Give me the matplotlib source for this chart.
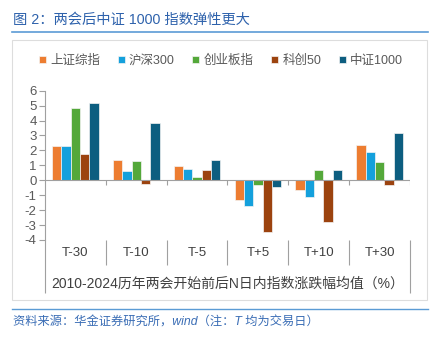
import numpy as np
import matplotlib
matplotlib.use("Agg")
import matplotlib.pyplot as plt
from matplotlib.lines import Line2D
from matplotlib.patches import Rectangle

plt.rcParams['font.family'] = ['Liberation Sans', 'Noto Sans CJK SC']

# data: average index change in N trading days around the NPC/CPPCC sessions (%)
categories = ['T-30', 'T-10', 'T-5', 'T+5', 'T+10', 'T+30']
series_names = ['上证综指', '沪深300', '创业板指', '科创50', '中证1000']
sse = [2.28, 1.39, 0.94, -1.34, -0.67, 2.35]
csi300 = [2.28, 0.65, 0.78, -1.74, -1.14, 1.88]
chinext = [4.85, 1.32, 0.25, -0.34, 0.72, 1.21]
star50 = [1.77, -0.27, 0.67, -3.44, -2.77, -0.30]
csi1000 = [5.15, 3.87, 1.39, -0.45, 0.72, 3.17]
series = [sse, csi300, chinext, star50, csi1000]
colors = ['#ED7D31', '#14A0DC', '#54A83A', '#9C430F', '#0D5E80']

yticks = [6, 5, 4, 3, 2, 1, 0, -1, -2, -3, -4]
title = '图 2：两会后中证 1000 指数弹性更大'
xlabel = '2010-2024历年两会开始前后N日内指数涨跌幅均值（%）'
source = '资料来源：华金证券研究所，wind（注：T 均为交易日）'

W, H = 442, 343
fig = plt.figure(figsize=(W / 100, H / 100), dpi=100)

# axes placed in pixel terms
ax = fig.add_axes([45 / W, 1 - 240 / H, 365 / W, 149.3 / H])

x = np.arange(len(categories))
w = 0.153
for i, (vals, name, c) in enumerate(zip(series, series_names, colors)):
    ax.bar(x + (i - 2) * w, vals, width=w, color=c, label=name,
           edgecolor='#f4f4f4', linewidth=0.5, zorder=3)

grey = '#A0A0A0'
ax.set_xlim(-0.5, len(categories) - 0.5)
ax.set_ylim(-4, 6)
ax.set_yticks(yticks)
ax.set_yticklabels([str(t) for t in yticks])
ax.tick_params(axis='y', length=4, width=0.8, color=grey, labelsize=9.5,
               labelcolor='#595959', pad=2)
ax.set_xticks([])
for s in ['top', 'right', 'bottom']:
    ax.spines[s].set_visible(False)
ax.spines['left'].set_color(grey)
ax.spines['left'].set_linewidth(0.8)

# zero line and small ticks at category boundaries
ax.axhline(0, color=grey, lw=0.8, zorder=4)
bounds = np.arange(len(categories) + 1) - 0.5
ax.vlines(bounds[1:], -0.3, 0, color=grey, lw=0.8, zorder=4)

# category label area under the plot
xt = ax.get_xaxis_transform()
ax.vlines(bounds[1:-1], -0.167, 0, color=grey, lw=0.8, transform=xt, clip_on=False)
ax.vlines([bounds[0], bounds[-1]], -0.355, 0, color=grey, lw=0.8, transform=xt, clip_on=False)
for xi, cat in zip(x, categories):
    ax.text(xi, -0.085, cat, transform=xt, ha='center', va='center',
            fontsize=9.5, color='#404040')
ax.text((bounds[0] + bounds[-1]) / 2, -0.29, xlabel, transform=xt, ha='center',
        va='center', fontsize=10, color='#404040')

ax.legend(loc='center', bbox_to_anchor=(221 / W, 1 - 61 / H),
          bbox_transform=fig.transFigure, ncol=5, frameon=False, fontsize=9,
          handlelength=0.55, handleheight=0.55, handletextpad=0.35,
          columnspacing=1.4, labelcolor='#595959', borderaxespad=0)

# frame, title and source
fig.patches.append(Rectangle((12 / W, 1 - 300 / H), 415 / W, 260 / H,
                             transform=fig.transFigure, fill=False,
                             edgecolor='#DDDDDD', lw=0.8))
fig.lines.append(Line2D([12 / W, 428 / W], [1 - 32 / H] * 2,
                        transform=fig.transFigure, color='#5B9BD5', lw=1.2))
fig.lines.append(Line2D([12 / W, 428 / W], [1 - 309 / H] * 2,
                        transform=fig.transFigure, color='#5B9BD5', lw=1.0))
fig.text(13 / W, 1 - 20 / H, title, fontsize=10.3, color='#2E62AC',
         ha='left', va='center')
fig.text(13 / W, 1 - 322 / H, source, fontsize=8.8, color='#3A6DB5',
         style='italic', ha='left', va='center')

fig.savefig('out.png', dpi=100)
